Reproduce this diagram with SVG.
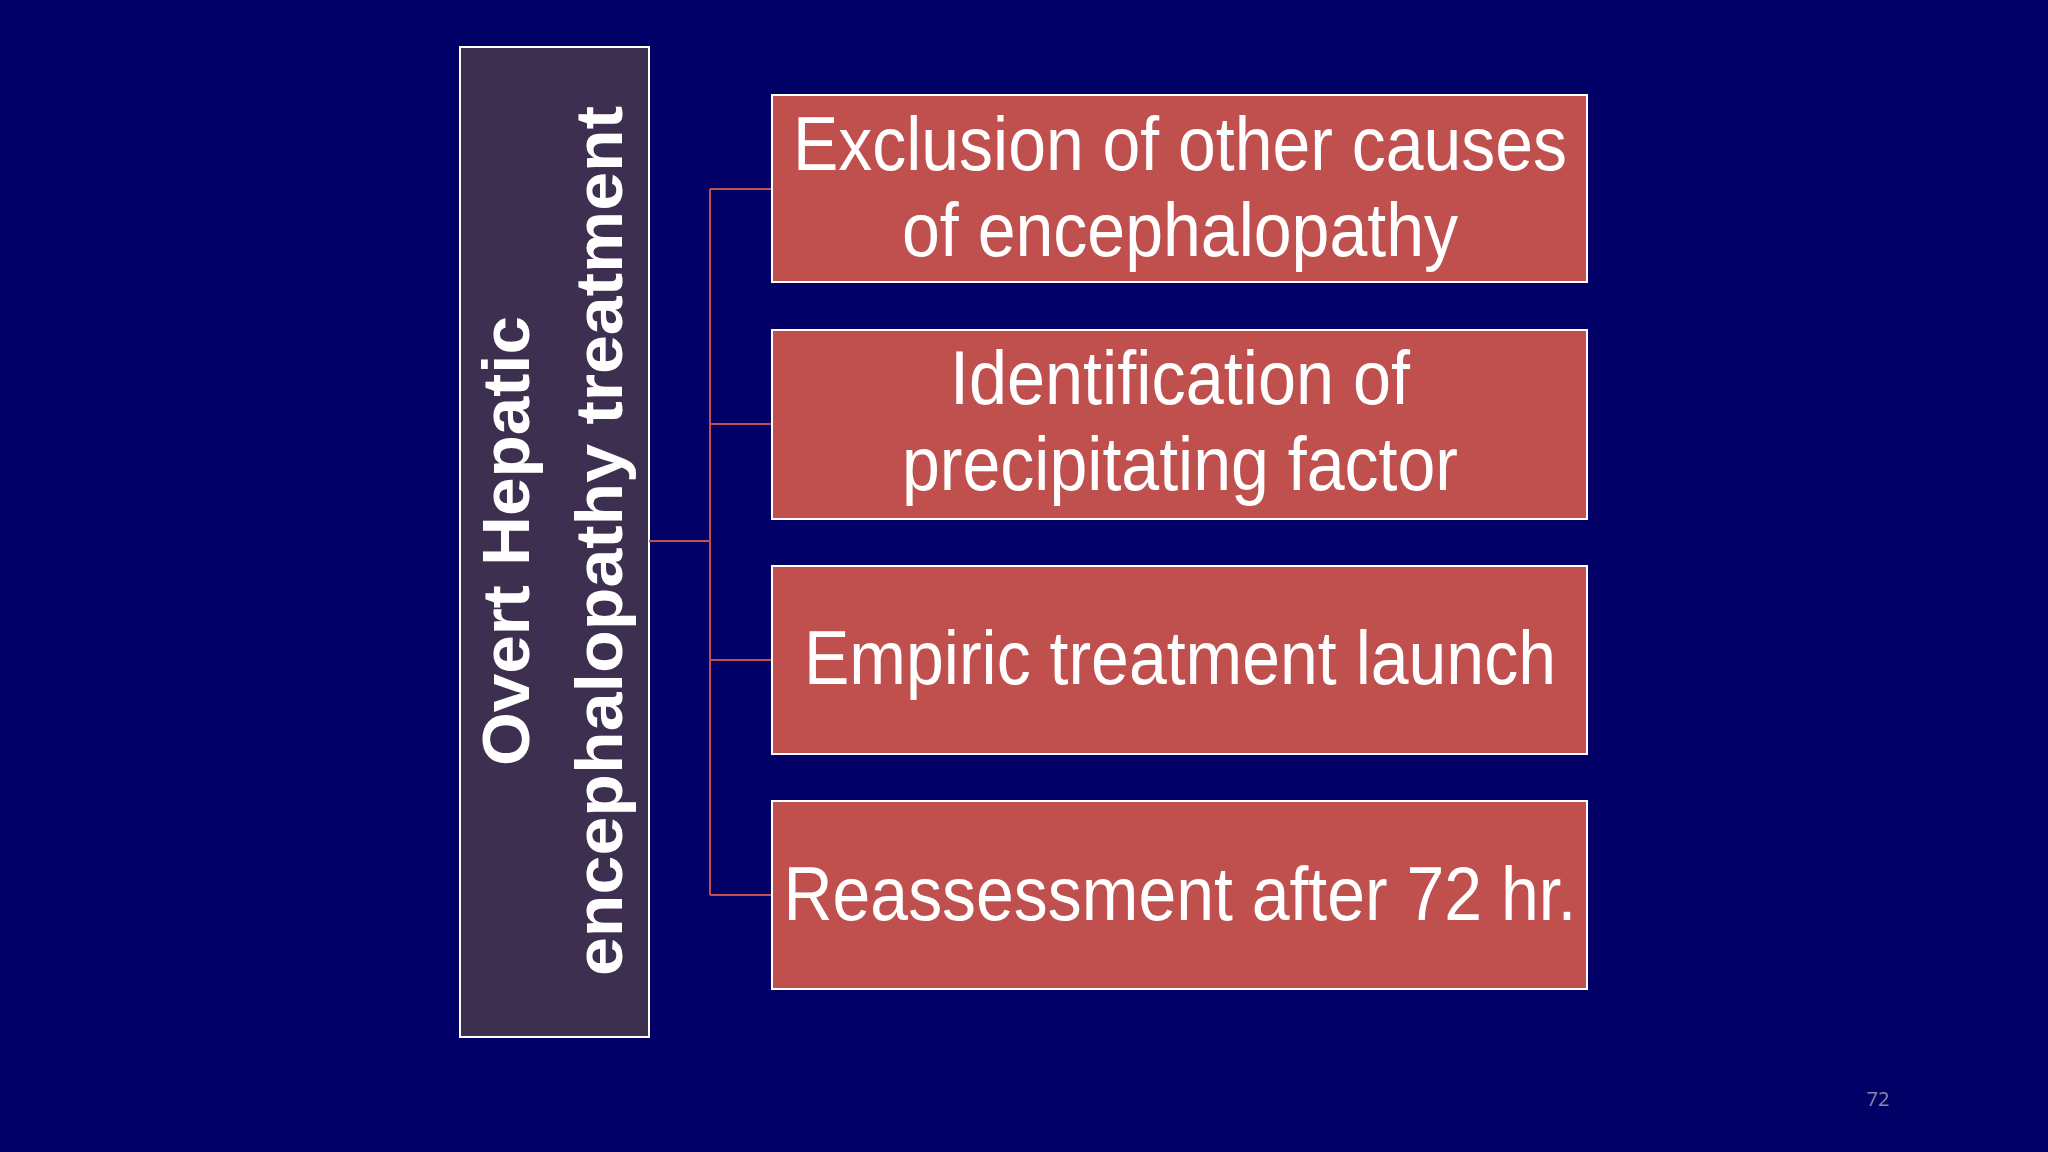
<svg xmlns="http://www.w3.org/2000/svg" width="2048" height="1152" viewBox="0 0 2048 1152">
<style>
.box{fill:#c0504d;stroke:#ffffff;stroke-width:2}
.t{fill:#fff;font-family:"Liberation Sans Narrow","Liberation Sans",Arial,sans-serif;font-size:76px;text-anchor:middle}
.lt{fill:#fff;font-family:"Liberation Sans",Arial,sans-serif;font-size:66px;font-weight:bold;text-anchor:middle}
.c{stroke:#c0504d;stroke-width:2;fill:none}
</style>
<rect width="2048" height="1152" fill="#000066"/>
<g id="root">
<rect x="460" y="47" width="189" height="990" fill="#3d2f4f" stroke="#fff" stroke-width="2"/>
<g transform="translate(554,541) rotate(-90)">
<text class="lt" x="0" y="-25" textLength="450" lengthAdjust="spacingAndGlyphs">Overt Hepatic</text>
<text class="lt" x="0" y="68" textLength="870" lengthAdjust="spacingAndGlyphs">encephalopathy treatment</text>
</g>
</g>
<g id="connectors">
<path class="c" d="M649 541H710M710 189V895M710 189H772M710 424H772M710 660H772M710 895H772"/>
</g>
<g id="n1"><rect class="box" x="772" y="95" width="815" height="187"/>
<text class="t" x="1180" y="170" textLength="774" lengthAdjust="spacingAndGlyphs">Exclusion of other causes</text>
<text class="t" x="1180" y="256" textLength="556" lengthAdjust="spacingAndGlyphs">of encephalopathy</text></g>
<g id="n2"><rect class="box" x="772" y="330" width="815" height="189"/>
<text class="t" x="1180" y="404" textLength="460" lengthAdjust="spacingAndGlyphs">Identification of</text>
<text class="t" x="1180" y="490" textLength="556" lengthAdjust="spacingAndGlyphs">precipitating factor</text></g>
<g id="n3"><rect class="box" x="772" y="566" width="815" height="188"/>
<text class="t" x="1180" y="684" textLength="752" lengthAdjust="spacingAndGlyphs">Empiric treatment launch</text></g>
<g id="n4"><rect class="box" x="772" y="801" width="815" height="188"/>
<text class="t" x="1180" y="920" textLength="793" lengthAdjust="spacingAndGlyphs">Reassessment after 72 hr.</text></g>
<text x="1878" y="1106" fill="#8888aa" font-family="Open Sans,sans-serif" font-size="20" text-anchor="middle">72</text>
</svg>
